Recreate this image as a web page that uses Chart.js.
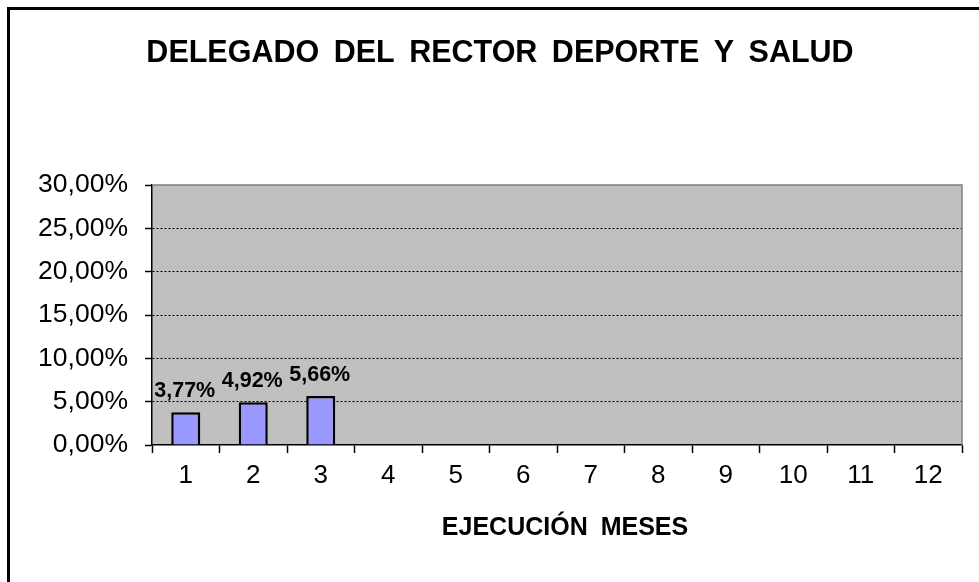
<!DOCTYPE html>
<html>
<head>
<meta charset="utf-8">
<script src="https://cdn.jsdelivr.net/npm/chart.js@4/dist/chart.umd.min.js"></script>
<style>
  html, body { margin: 0; padding: 0; background: #fff; }
  #wrap { position: relative; width: 979px; height: 582px; }
</style>
</head>
<body>
<div id="wrap"><canvas id="c" width="979" height="582"></canvas></div>
<script>
const chartTitle = 'DELEGADO DEL RECTOR DEPORTE Y SALUD';
const xAxisTitle = 'EJECUCIÓN MESES';
const months = ['1','2','3','4','5','6','7','8','9','10','11','12'];
const execution = [3.77, 4.92, 5.66, null, null, null, null, null, null, null, null, null];
const yTicks = [0, 5, 10, 15, 20, 25, 30];

const FONT = '"Liberation Sans", Arial, sans-serif';
const fmt = v => v.toFixed(2).replace('.', ',') + '%';

const decor = {
  id: 'decor',
  beforeDraw(chart) {
    const {ctx, chartArea: a} = chart;
    ctx.save();
    ctx.fillStyle = '#fff';
    ctx.fillRect(0, 0, chart.width, chart.height);
    ctx.fillStyle = '#C0C0C0';
    ctx.fillRect(a.left, a.top, a.right - a.left, a.bottom - a.top);
    // frame (left + top)
    ctx.strokeStyle = '#000';
    ctx.lineWidth = 3;
    ctx.beginPath();
    ctx.moveTo(8.5, chart.height + 2);
    ctx.lineTo(8.5, 8.5);
    ctx.lineTo(chart.width + 2, 8.5);
    ctx.stroke();
    // title
    ctx.fillStyle = '#000';
    ctx.font = 'bold 30.5px ' + FONT;
    ctx.textAlign = 'center';
    ctx.textBaseline = 'middle';
    ctx.wordSpacing = '6px';
    ctx.fillText(chartTitle, 500, 54);
    // x axis title
    ctx.font = 'bold 25px ' + FONT;
    ctx.wordSpacing = '6px';
    ctx.fillText(xAxisTitle, 565, 528);
    ctx.wordSpacing = '0px';
    ctx.restore();
  },
  beforeDatasetsDraw(chart) {
    const {ctx, chartArea: a} = chart;
    ctx.save();
    ctx.strokeStyle = '#808080';
    ctx.lineWidth = 1.5;
    ctx.beginPath();
    ctx.moveTo(a.left, a.top);
    ctx.lineTo(a.right, a.top);
    ctx.lineTo(a.right, a.bottom);
    ctx.stroke();
    ctx.restore();
  },
  afterDatasetsDraw(chart) {
    const {ctx} = chart;
    const meta = chart.getDatasetMeta(0);
    ctx.save();
    ctx.fillStyle = '#000';
    ctx.font = 'bold 21.5px ' + FONT;
    ctx.textAlign = 'center';
    ctx.textBaseline = 'alphabetic';
    meta.data.forEach((el, i) => {
      const v = execution[i];
      if (v === null || v === undefined) return;
      ctx.fillText(fmt(v), el.x - 1, el.y - 15);
    });
    ctx.restore();
  }
};

new Chart(document.getElementById('c'), {
  type: 'bar',
  data: {
    labels: months,
    datasets: [{
      data: execution,
      backgroundColor: '#9999FF',
      borderColor: '#000',
      borderWidth: 2.5,
      barPercentage: 0.43,
      categoryPercentage: 1
    }]
  },
  options: {
    responsive: false,
    animation: false,
    devicePixelRatio: 1,
    layout: { padding: { left: 0, right: 17, top: 185, bottom: 0 } },
    plugins: {
      legend: { display: false },
      title: { display: false },
      tooltip: { enabled: false }
    },
    scales: {
      x: {
        type: 'category',
        offset: true,
        grid: {
          offset: true,
          drawOnChartArea: false,
          drawTicks: true,
          tickLength: 8,
          tickColor: '#000',
          tickWidth: 1.5
        },
        border: { display: true, color: '#000', width: 1.5 },
        ticks: {
          color: '#000',
          font: { family: FONT, size: 26 },
          padding: 7,
          maxRotation: 0,
          autoSkip: false
        },
        title: { display: false },
        afterFit(scale) { scale.height = 137; }
      },
      y: {
        min: 0,
        max: 30,
        afterBuildTicks(scale) { scale.ticks = yTicks.map(v => ({ value: v })); },
        grid: {
          drawOnChartArea: true,
          drawTicks: true,
          tickLength: 7,
          tickColor: '#000',
          tickWidth: 1.5,
          lineWidth: 1,
          color: c => (c.tick && (c.tick.value === 0 || c.tick.value === 30)) ? 'rgba(0,0,0,0)' : '#000'
        },
        border: { display: true, color: '#000', width: 1.5, dash: [2, 2] },
        ticks: {
          color: '#000',
          font: { family: FONT, size: 26.5 },
          padding: 17,
          callback: v => fmt(v)
        },
        afterFit(scale) { scale.width = 152; }
      }
    }
  },
  plugins: [decor]
});
</script>
</body>
</html>
